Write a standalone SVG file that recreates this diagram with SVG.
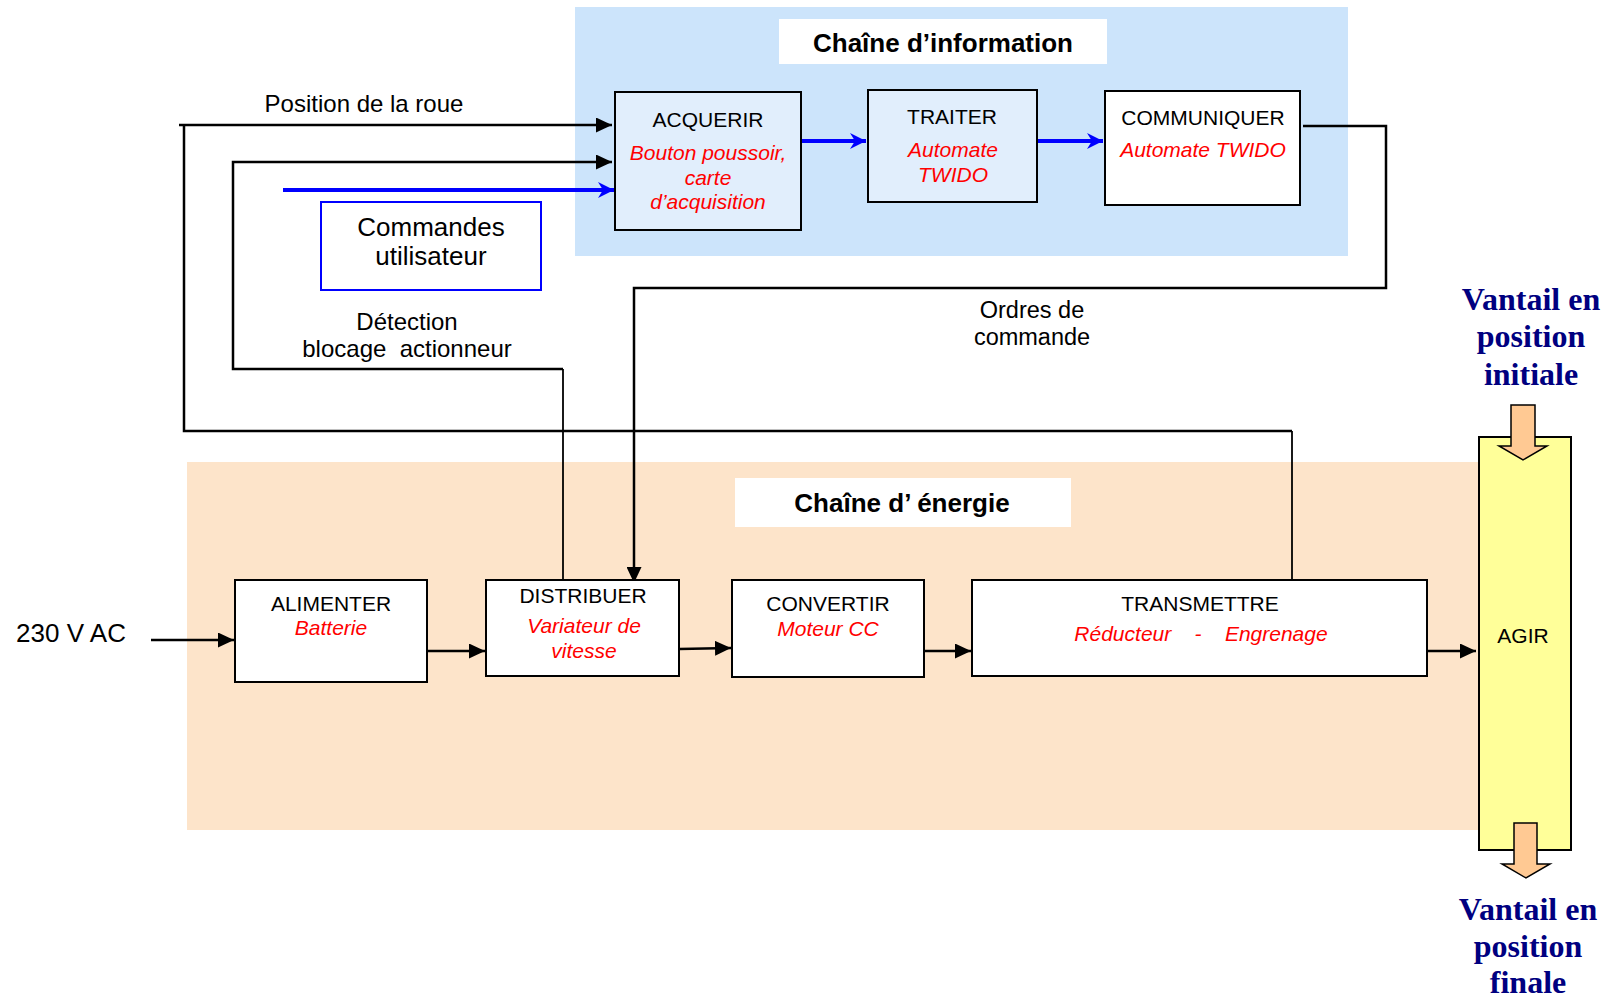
<svg xmlns="http://www.w3.org/2000/svg" width="1610" height="999" viewBox="0 0 1610 999">
<defs>
<style>
.t{font-family:"Liberation Sans",Arial,sans-serif;fill:#000;text-anchor:middle}
.r{font-family:"Liberation Sans",Arial,sans-serif;fill:#ff0000;font-style:italic;text-anchor:middle;font-size:21px}
.h{font-family:"Liberation Sans",Arial,sans-serif;font-weight:bold;font-size:26px;text-anchor:middle;fill:#000}
.v{font-family:"Liberation Serif","Times New Roman",serif;font-weight:bold;font-size:32px;fill:#000080;text-anchor:middle}
.box{stroke:#000;stroke-width:2}
.ln{fill:none;stroke:#000;stroke-width:2.5}
.thin{fill:none;stroke:#000;stroke-width:1.8}
.bl{fill:none;stroke:#0000ff;stroke-width:4}
.oa{fill:#ffc993;stroke:#000;stroke-width:1.5}
</style>
<marker id="ab" markerUnits="userSpaceOnUse" markerWidth="16" markerHeight="15" refX="16" refY="7.5" orient="auto"><path d="M0,0 L16,7.5 L0,15 z" fill="#000"/></marker>
<marker id="au" markerUnits="userSpaceOnUse" markerWidth="16" markerHeight="16" refX="16" refY="8" orient="auto"><path d="M0,0 L16,8 L0,16 L5,8 z" fill="#0000ff"/></marker>
</defs>
<rect width="1610" height="999" fill="#fff"/>
<g id="panel-info"><rect x="575" y="7" width="773" height="249" fill="#cce4fb"/><rect x="779" y="19" width="328" height="45" fill="#fff"/><text class="h" x="943" y="52">Chaîne d’information</text></g>
<g id="panel-energy"><rect x="187" y="462" width="1293" height="368" fill="#fde4ca"/><rect x="735" y="478" width="336" height="49" fill="#fff"/><text class="h" x="902" y="512">Chaîne d’ énergie</text></g>
<g id="connectors">
<path class="thin" d="M1292,588 V431"/>
<path class="ln" d="M1292,431 H184 V125"/>
<path class="ln" d="M179,125 H612" marker-end="url(#ab)"/>
<path class="thin" d="M563,580 V369"/>
<path class="ln" d="M563,369 H233 V162 H612" marker-end="url(#ab)"/>
<path class="bl" d="M283,190 H614" marker-end="url(#au)"/>
<path class="ln" d="M1303,126 H1386 V288 H634 V583" marker-end="url(#ab)"/>
<path class="bl" d="M802,141 H866" marker-end="url(#au)"/>
<path class="bl" d="M1037,141 H1103" marker-end="url(#au)"/>
<path class="ln" d="M151,640 H234" marker-end="url(#ab)"/>
<path class="ln" d="M427,651 H485" marker-end="url(#ab)"/>
<path class="ln" d="M679,649 L731,648" marker-end="url(#ab)"/>
<path class="ln" d="M924,651 H971" marker-end="url(#ab)"/>
<path class="ln" d="M1427,651 H1476" marker-end="url(#ab)"/>
</g>
<g id="labels">
<text class="t" x="364" y="112" font-size="24">Position de la roue</text>
<text class="t" x="407" y="330" font-size="24">Détection</text>
<text class="t" x="407" y="357" font-size="24" xml:space="preserve">blocage  actionneur</text>
<text class="t" x="1032" y="318" font-size="23.5">Ordres de</text>
<text class="t" x="1032" y="345" font-size="23.5">commande</text>
<text class="t" x="71" y="642" font-size="26">230 V AC</text>
</g>
<g id="commandes"><rect x="321" y="202" width="220" height="88" fill="#fff" stroke="#0000ff" stroke-width="2"/><text class="t" x="431" y="236" font-size="26">Commandes</text><text class="t" x="431" y="265" font-size="26">utilisateur</text></g>
<g id="acquerir"><rect class="box" x="615" y="92" width="186" height="138" fill="#e1eefc"/><text class="t" x="708" y="127" font-size="21">ACQUERIR</text><text class="r" x="708" y="160">Bouton poussoir,</text><text class="r" x="708" y="185">carte</text><text class="r" x="708" y="209">d’acquisition</text></g>
<g id="traiter"><rect class="box" x="868" y="90" width="169" height="112" fill="#e1eefc"/><text class="t" x="952" y="124" font-size="21">TRAITER</text><text class="r" x="953" y="157">Automate</text><text class="r" x="953" y="182">TWIDO</text></g>
<g id="communiquer"><rect class="box" x="1105" y="91" width="195" height="114" fill="#fff"/><text class="t" x="1203" y="125" font-size="21">COMMUNIQUER</text><text class="r" x="1203" y="157">Automate TWIDO</text></g>
<g id="alimenter"><rect class="box" x="235" y="580" width="192" height="102" fill="#fff"/><text class="t" x="331" y="611" font-size="21">ALIMENTER</text><text class="r" x="331" y="635">Batterie</text></g>
<g id="distribuer"><rect class="box" x="486" y="580" width="193" height="96" fill="#fff"/><text class="t" x="583" y="603" font-size="21">DISTRIBUER</text><text class="r" x="584" y="633">Variateur de</text><text class="r" x="584" y="658">vitesse</text></g>
<g id="convertir"><rect class="box" x="732" y="580" width="192" height="97" fill="#fff"/><text class="t" x="828" y="611" font-size="21">CONVERTIR</text><text class="r" x="828" y="636">Moteur CC</text></g>
<g id="transmettre"><rect class="box" x="972" y="580" width="455" height="96" fill="#fff"/><text class="t" x="1200" y="611" font-size="21">TRANSMETTRE</text><text class="r" x="1201" y="641" xml:space="preserve">Réducteur    -    Engrenage</text></g>
<g id="agir"><rect class="box" x="1479" y="437" width="92" height="413" fill="#ffff99"/><text class="t" x="1523" y="643" font-size="21">AGIR</text></g>
<g id="arrow-in"><polygon class="oa" points="1511,405 1535,405 1535,446 1547,446 1523,460 1499,446 1511,446"/></g>
<g id="arrow-out"><polygon class="oa" points="1514,823 1537,823 1537,864 1550,864 1526,878 1502,864 1514,864"/></g>
<g id="vantail-initial"><text class="v" x="1531" y="310">Vantail en</text><text class="v" x="1531" y="347">position</text><text class="v" x="1531" y="385">initiale</text></g>
<g id="vantail-final"><text class="v" x="1528" y="920">Vantail en</text><text class="v" x="1528" y="957">position</text><text class="v" x="1528" y="993">finale</text></g>
</svg>
